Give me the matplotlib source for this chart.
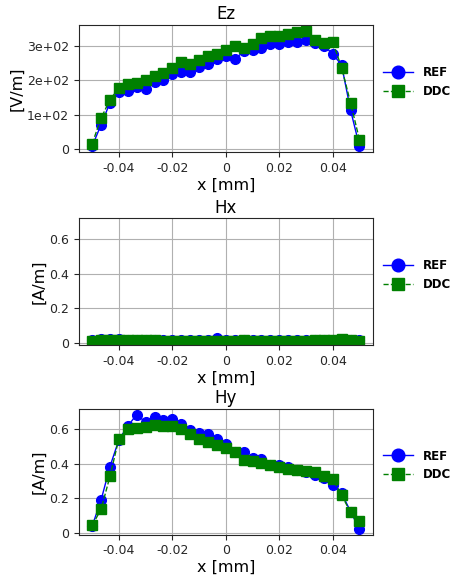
import numpy as np
import matplotlib
matplotlib.use('Agg')
import matplotlib.pyplot as plt
from matplotlib.ticker import FuncFormatter

# sample positions [mm]
x = np.linspace(-0.05, 0.05, 31)

ez_ref = [9, 71, 135, 166, 169, 180, 175, 194, 202, 218, 223, 225, 239, 246, 263, 270,
          261, 284, 289, 294, 305, 305, 311, 311, 318, 308, 300, 277, 244, 114, 9]
ez_ddc = [16, 90, 144, 178, 190, 191, 202, 213, 221, 237, 253, 248, 258, 272, 277, 287,
          300, 294, 305, 322, 329, 329, 335, 341, 344, 318, 308, 311, 237, 135, 28]

hx_ref = [0.022, 0.024, 0.025, 0.024, 0.022, 0.02, 0.02, 0.019, 0.021, 0.02, 0.018, 0.019,
          0.018, 0.021, 0.03, 0.02, 0.019, 0.018, 0.019, 0.018, 0.022, 0.019, 0.018, 0.019,
          0.02, 0.019, 0.02, 0.022, 0.021, 0.02, 0.019]
hx_ddc = [0.015, 0.02, 0.021, 0.022, 0.021, 0.019, 0.017, 0.017, 0.016, 0.015, 0.016, 0.015,
          0.016, 0.015, 0.016, 0.015, 0.016, 0.02, 0.016, 0.015, 0.016, 0.015, 0.015, 0.016,
          0.016, 0.017, 0.02, 0.02, 0.024, 0.018, 0.015]

hy_ref = [0.04, 0.19, 0.385, 0.54, 0.62, 0.686, 0.642, 0.67, 0.657, 0.663, 0.632, 0.596,
          0.581, 0.575, 0.543, 0.518, 0.472, 0.467, 0.434, 0.429, 0.396, 0.396, 0.385, 0.366,
          0.356, 0.337, 0.32, 0.28, 0.232, 0.124, 0.023]
hy_ddc = [0.044, 0.137, 0.328, 0.547, 0.6, 0.61, 0.613, 0.625, 0.62, 0.62, 0.604, 0.575,
          0.543, 0.53, 0.509, 0.495, 0.467, 0.423, 0.419, 0.404, 0.396, 0.381, 0.371, 0.366,
          0.362, 0.352, 0.333, 0.314, 0.219, 0.12, 0.072]

titles = ['Ez', 'Hx', 'Hy']
units = ['[V/m]', '[A/m]', '[A/m]']
refs = [ez_ref, hx_ref, hy_ref]
ddcs = [ez_ddc, hx_ddc, hy_ddc]

fig = plt.figure(figsize=(4.58, 5.80), dpi=100)
boxes = [(0.172, 0.738, 0.642, 0.219),
         (0.172, 0.405, 0.642, 0.219),
         (0.172, 0.078, 0.642, 0.217)]

gfmt = FuncFormatter(lambda v, p: '%g' % round(v, 6))
efmt = FuncFormatter(lambda v, p: '0' if v == 0 else '%.0e' % v)

axes = []
for i in range(3):
    ax = fig.add_axes(boxes[i])
    axes.append(ax)
    ax.plot(x, refs[i], '-o', color='blue', lw=1, ms=7, label='REF')
    ax.plot(x, ddcs[i], '--s', color='green', lw=1, ms=7, label='DDC')
    ax.set_title(titles[i], fontsize=12, pad=4)
    ax.set_xlabel('x [mm]', fontsize=11.5, labelpad=2)
    ax.set_ylabel(units[i], fontsize=11.5, labelpad=2)
    ax.grid(True, color='#b0b0b0', lw=0.8)
    ax.tick_params(labelsize=9, colors='#262626', labelcolor='#262626')
    for s in ax.spines.values():
        s.set_color('#262626')
    ax.set_xticks([-0.04, -0.02, 0, 0.02, 0.04])
    ax.xaxis.set_major_formatter(gfmt)
    leg = ax.legend(loc='center left', bbox_to_anchor=(1.0, 0.55), frameon=False,
                    handlelength=2.5, markerscale=1.3, prop={'weight': 'bold', 'size': 8.5})

axes[0].yaxis.set_major_formatter(efmt)
axes[0].set_yticks([0, 100, 200, 300])
axes[2].yaxis.set_major_formatter(gfmt)
axes[1].yaxis.set_major_formatter(gfmt)
axes[1].set_ylim(axes[2].get_ylim())
axes[1].set_yticks([0, 0.2, 0.4, 0.6])
axes[2].set_yticks([0, 0.2, 0.4, 0.6])

fig.savefig('out.png', dpi=100)
